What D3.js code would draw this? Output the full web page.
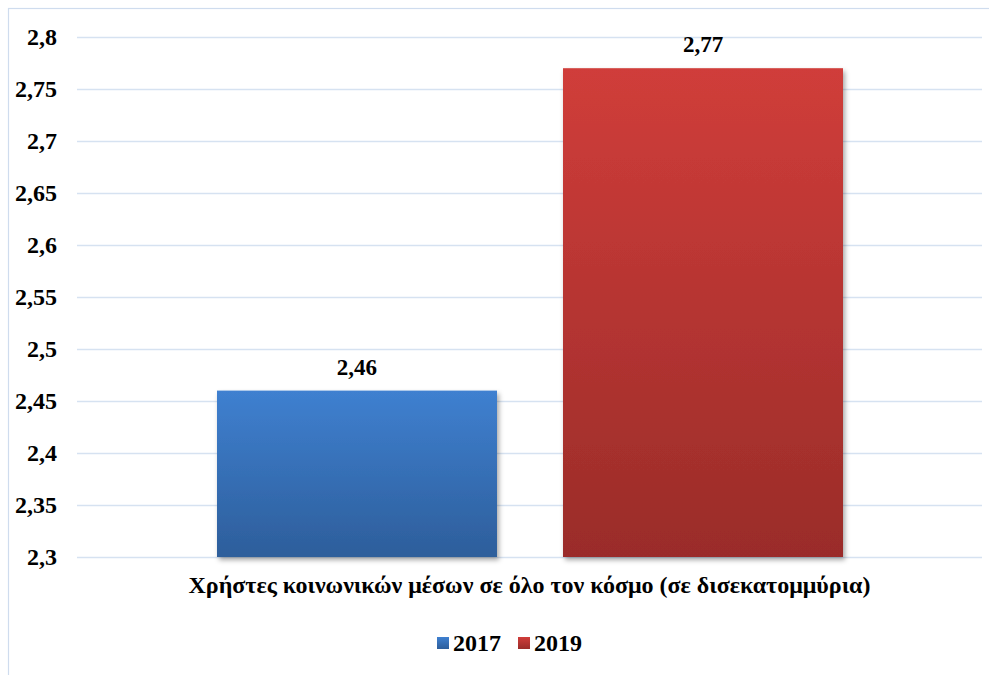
<!DOCTYPE html>
<html><head><meta charset="utf-8">
<script src="https://cdn.jsdelivr.net/npm/d3@7"></script>
<style>body{margin:0;background:#fff}svg{display:block}</style>
</head><body>
<svg id="c" width="989" height="675"></svg>
<script>
const categories = ["Χρήστες κοινωνικών μέσων σε όλο τον κόσμο (σε δισεκατομμύρια)"];
const seriesNames = ["2017", "2019"];
const values2017 = [2.46];
const values2019 = [2.77];
const tickValues = [2.3, 2.35, 2.4, 2.45, 2.5, 2.55, 2.6, 2.65, 2.7, 2.75, 2.8];
const tickLabels = ["2,3","2,35","2,4","2,45","2,5","2,55","2,6","2,65","2,7","2,75","2,8"];
const seriesValues = [values2017, values2019];

const svg = d3.select("#c");
const defs = svg.append("defs");
const grads = [["g0","#3f80d0","#2d5e9b"],["g1","#d03d3a","#9a2c29"]];
grads.forEach(([id,a,b])=>{
  const g = defs.append("linearGradient").attr("id",id).attr("x1",0).attr("y1",0).attr("x2",0).attr("y2",1);
  g.append("stop").attr("offset","0%").attr("stop-color",a);
  g.append("stop").attr("offset","100%").attr("stop-color",b);
});
const f = defs.append("filter").attr("id","sh").attr("x","-10%").attr("y","-10%").attr("width","130%").attr("height","130%");
f.append("feDropShadow").attr("dx",2).attr("dy",3).attr("stdDeviation",2.5).attr("flood-color","#000").attr("flood-opacity",0.35);

svg.append("rect").attr("x",8.5).attr("y",8.5).attr("width",990).attr("height",700)
  .attr("fill","none").attr("stroke","#cfdcee").attr("stroke-width",1.2);

const L = 77, R = 982, T = 37, B = 557;
const y = d3.scaleLinear().domain([2.3, 2.8]).range([B, T]);
const x0 = d3.scaleBand().domain(categories).range([L, R]);
const x1 = d3.scaleBand().domain(seriesNames).range([217, 843]).paddingInner(0.1908);
const serif = "Liberation Serif";

svg.append("g").selectAll("line").data(tickValues).join("line")
  .attr("x1",L).attr("x2",R).attr("y1",d=>Math.round(y(d))+0.5).attr("y2",d=>Math.round(y(d))+0.5)
  .attr("stroke","#d6e2f1").attr("stroke-width",1.5);

svg.append("g").selectAll("text").data(tickValues).join("text")
  .attr("x",57).attr("y",d=>y(d)).attr("dy","0.35em").attr("text-anchor","end")
  .attr("font-family",serif).attr("font-weight","bold").attr("font-size",24).attr("fill","#000")
  .text((d,i)=>tickLabels[i]);

const bars = [];
categories.forEach((c,ci)=>seriesNames.forEach((s,si)=>bars.push({s,si,v:seriesValues[si][ci]})));

svg.append("g").selectAll("rect").data(bars).join("rect")
  .attr("x",d=>x1(d.s)).attr("width",x1.bandwidth())
  .attr("y",d=>y(d.v)).attr("height",d=>B-y(d.v))
  .attr("fill",d=>`url(#g${d.si})`).attr("filter","url(#sh)");

svg.append("g").selectAll("text").data(bars).join("text")
  .attr("x",d=>x1(d.s)+x1.bandwidth()/2).attr("y",d=>y(d.v)-16)
  .attr("text-anchor","middle").attr("font-family",serif).attr("font-weight","bold").attr("font-size",23)
  .text(d=>String(d.v).replace(".",","));

svg.append("text").attr("x",x0(categories[0])+x0.bandwidth()/2).attr("y",593)
  .attr("text-anchor","middle").attr("font-family",serif).attr("font-weight","bold").attr("font-size",24)
  .text(categories[0]);

const lg = svg.append("g");
const legX = [437, 518];
seriesNames.forEach((s,i)=>{
  lg.append("rect").attr("x",legX[i]).attr("y",637).attr("width",12).attr("height",12).attr("fill",`url(#g${i})`);
  lg.append("text").attr("x",legX[i]+16).attr("y",651).attr("font-family",serif).attr("font-weight","bold").attr("font-size",24).text(s);
});
</script>
</body></html>
